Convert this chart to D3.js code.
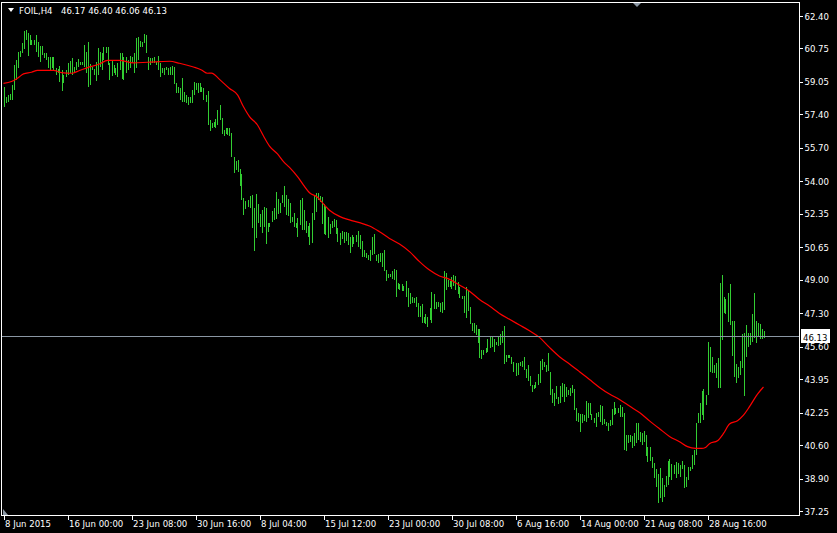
<!DOCTYPE html>
<html><head><meta charset="utf-8">
<script src="https://cdn.jsdelivr.net/npm/d3@7/dist/d3.min.js"></script>
<style>html,body{margin:0;padding:0;background:#000;overflow:hidden}</style>
</head><body><svg id="c" width="837" height="533"></svg>
<script>
const symbol = "FOIL,H4";
const lastOHLC = ["46.17", "46.40", "46.06", "46.13"];
const bidPrice = 46.13;

const highs = [
58.81,58.30,58.39,58.44,58.90,59.91,60.17,60.59,60.64,61.05,
61.66,61.69,61.52,61.44,61.18,61.18,61.44,61.10,60.88,60.88,
60.51,60.51,60.34,60.34,60.30,60.30,59.74,59.69,59.86,59.66,
59.40,59.66,60.00,60.13,60.25,59.83,60.08,60.20,60.08,60.08,
60.93,60.59,61.10,59.96,59.83,59.69,60.08,60.76,60.59,60.51,
60.81,60.81,60.81,60.00,60.17,59.91,59.74,60.00,60.51,60.51,
60.34,60.34,60.17,60.37,60.34,60.51,61.27,61.35,61.15,61.10,
61.49,61.44,60.34,60.25,60.25,60.30,60.08,60.37,60.00,59.74,
59.74,59.83,59.74,59.83,59.86,59.83,58.98,58.81,58.73,59.24,
58.56,58.39,58.30,58.30,58.64,59.07,58.98,59.02,58.98,58.81,
58.73,58.39,58.61,
57.11,56.98,57.03,57.15,57.62,57.88,57.20,56.61,56.69,56.69,
56.69,56.44,55.25,55.05,55.08,54.61,54.37,53.13,53.02,53.05,
53.25,53.31,52.63,53.36,52.85,52.34,52.54,52.68,52.63,51.86,
51.90,52.51,52.63,53.47,53.08,52.91,53.31,53.76,53.31,53.08,
52.88,52.17,52.41,51.90,52.12,53.05,53.13,52.54,52.00,51.73,
51.90,52.41,53.31,53.42,53.42,53.25,53.18,52.85,52.68,52.20,
51.83,52.00,52.07,52.03,51.61,51.36,
51.49,51.44,51.44,51.36,51.19,51.27,51.15,51.27,51.49,51.27,
50.98,50.51,50.34,50.26,50.51,51.19,51.32,50.26,50.31,50.38,
50.34,50.51,49.49,49.29,49.29,49.46,49.53,49.49,48.82,48.78,
48.78,48.68,48.95,48.56,48.31,48.11,48.05,48.14,47.83,47.66,
47.77,47.12,47.26,47.12,47.55,48.39,48.28,47.88,47.88,47.83,
47.88,49.46,49.32,48.99,48.95,49.12,49.24,49.19,48.90,48.61,
48.17,48.17,48.61,48.48,47.63,46.82,46.82,46.70,46.48,46.48,
45.43,45.43,45.51,45.97,46.14,46.10,45.97,45.85,46.07,46.24,
46.41,46.65,45.17,45.17,45.17,45.09,44.83,44.75,44.78,44.83,
44.88,45.05,44.44,44.66,44.11,43.65,43.65,43.82,44.21,44.88,
44.95,44.83,44.66,45.26,44.33,43.43,43.26,43.60,43.06,43.60,
43.77,43.70,43.53,43.39,43.48,43.65,43.43,42.46,42.24,42.17,
42.17,42.12,42.85,42.72,42.75,42.17,41.95,42.21,42.29,42.63,
42.58,41.90,41.79,41.70,41.87,42.41,42.80,42.46,42.46,42.63,
42.51,42.21,41.11,41.11,41.11,41.06,41.19,41.70,41.74,41.28,
41.19,41.33,41.11,40.52,40.48,40.01,39.70,39.36,39.13,39.42,
38.91,38.57,39.03,39.80,39.87,39.64,39.59,39.75,39.67,39.59,
39.80,39.59,38.99,39.50,39.50,40.09,40.35,41.70,42.24,42.75,
43.36,43.43,
43.14,45.85,45.56,45.09,44.66,44.78,45.00,48.85,49.24,48.14,
48.00,48.34,48.78,46.92,46.92,44.72,44.55,44.88,46.24,46.27,
46.70,46.31,46.31,47.26,48.34,46.92,46.78,46.75,46.48,46.40
];

const lows = [
57.76,57.97,58.05,58.13,58.13,58.64,59.15,59.74,60.34,60.51,
60.71,61.18,60.37,60.93,60.93,60.93,60.59,60.34,60.08,60.42,
60.25,60.17,59.74,59.66,59.74,59.66,59.40,59.49,59.07,58.61,
58.98,59.32,59.40,59.49,59.40,59.49,59.66,59.83,59.91,59.91,
59.83,59.49,58.78,58.90,59.66,59.40,59.12,59.40,59.83,59.66,
60.17,60.51,59.91,59.15,59.35,59.49,59.40,59.29,59.66,59.19,
59.15,59.49,59.66,59.74,60.00,59.49,59.74,60.17,60.84,60.84,
61.01,60.51,59.66,59.91,60.00,60.00,59.91,59.66,59.32,59.49,
59.40,59.66,59.40,59.40,59.40,58.95,58.47,58.47,58.13,58.05,
58.05,57.97,57.88,57.97,58.00,58.39,58.64,58.47,58.56,58.56,
58.13,58.05,56.85,
56.57,56.69,56.78,56.69,56.86,57.11,56.40,56.30,56.40,56.35,
56.30,55.25,54.44,54.57,54.49,53.76,53.05,52.29,52.58,52.71,
52.63,51.61,50.48,51.10,51.90,51.70,51.36,51.70,50.81,51.44,
51.70,51.95,52.03,52.07,52.34,52.41,52.88,52.71,52.29,52.24,
51.86,51.95,51.70,51.61,51.19,51.78,51.53,51.53,51.36,51.15,
50.76,50.88,52.03,52.46,53.05,52.97,51.83,51.32,51.27,51.10,
51.32,51.61,51.70,51.32,50.93,50.76,
51.05,50.85,50.98,50.76,50.37,50.68,50.82,50.93,50.68,50.54,
50.17,50.14,50.09,50.00,49.97,50.26,50.31,49.97,49.87,49.92,
49.63,49.46,48.95,49.07,49.12,49.02,48.99,48.10,48.51,48.48,
48.44,48.44,48.14,47.63,47.77,47.83,47.80,47.59,47.12,47.12,
46.82,46.82,46.75,46.61,46.95,46.82,47.50,47.50,47.59,47.38,
47.29,47.46,48.48,48.65,48.61,48.51,48.68,48.48,48.27,48.05,
48.00,47.29,47.04,47.43,46.75,46.41,46.28,46.19,45.77,45.01,
44.95,45.17,45.29,45.34,45.51,45.56,45.34,45.68,45.63,45.68,
45.77,44.72,44.83,45.00,45.00,44.72,44.33,44.11,44.16,44.61,
44.58,44.41,43.99,43.87,43.60,43.31,43.43,43.48,43.65,43.73,
44.41,44.55,44.33,44.38,43.14,42.75,42.58,42.92,42.68,42.72,
43.02,42.80,43.06,43.14,43.09,43.26,42.38,41.84,41.79,41.28,
41.73,41.84,41.79,41.95,42.12,41.87,41.70,41.53,42.01,41.79,
41.62,41.67,41.57,41.33,41.57,41.62,42.12,42.17,42.24,42.04,
42.01,40.35,40.31,40.72,40.77,40.43,40.55,40.69,40.86,40.77,
40.60,40.77,40.04,39.75,39.80,39.41,38.91,38.45,37.67,37.89,
37.72,37.94,38.45,38.57,38.96,38.82,39.13,38.91,39.13,38.96,
39.36,38.40,38.45,38.82,39.30,39.36,39.59,40.09,41.74,41.70,
42.13,41.87,
42.63,43.14,44.33,44.28,44.24,43.99,43.48,43.48,45.93,47.32,
47.26,46.87,46.70,45.12,44.07,43.77,43.99,44.16,44.50,43.09,
45.05,45.56,45.68,45.85,46.02,45.80,46.07,45.97,45.97,46.06
];

const maBars = [0,4,7,10,14,17,25,29,34,38,42,48,52,58,65,72,83,88,95,99,102,104,108,113,117,120,123,127,130,133,137,140,143,147,150,153,157,160,163,168,173,178,183,188,193,198,203,208,213,218,223,228,233,238,243,248,253,258,263,268,273,278,283,288,293,298,303,308,313,318,323,328,333,338,342,346,349,351,353,357,360,363,367,370,373,377,380];
const maValues = [58.98,59.07,59.24,59.46,59.54,59.64,59.64,59.52,59.49,59.63,59.78,59.96,60.15,60.15,60.02,60.05,60.10,60.00,59.81,59.66,59.49,59.50,59.18,58.72,58.39,57.79,57.29,56.86,56.30,55.79,55.39,55.00,54.71,54.24,53.81,53.42,53.19,52.85,52.53,52.22,52.04,51.90,51.73,51.44,51.10,50.81,50.43,49.92,49.49,49.19,49.02,48.73,48.42,48.00,47.66,47.29,46.99,46.70,46.41,46.07,45.56,45.09,44.72,44.33,43.93,43.53,43.19,42.92,42.58,42.25,41.83,41.43,41.04,40.77,40.52,40.43,40.43,40.48,40.67,40.82,41.19,41.67,41.84,42.12,42.55,43.19,43.55];

const priceTicks = [62.40,60.75,59.05,57.40,55.70,54.00,52.35,50.65,49.00,47.30,45.60,43.95,42.25,40.60,38.90,37.25];
const timeTickBars = [0,32,64,96,128,160,192,224,256,288,320,352];
const timeTickLabels = ["8 Jun 2015","16 Jun 00:00","23 Jun 08:00","30 Jun 16:00","8 Jul 04:00","15 Jul 12:00","23 Jul 00:00","30 Jul 08:00","6 Aug 16:00","14 Aug 00:00","21 Aug 08:00","28 Aug 16:00"];

const FONT = "'DejaVu Sans Condensed','DejaVu Sans',sans-serif";
const svg = d3.select("#c");
svg.append("rect").attr("width",837).attr("height",533).attr("fill","#000");

const x = d3.scaleLinear().domain([0, highs.length - 1]).range([3.5, 763.5]);
const y = d3.scaleLinear().domain([37.25, 62.40]).range([511, 16]);

// frame
svg.append("path").attr("d","M1.5,2.5H799.5V515.5H1.5Z").attr("fill","none").attr("stroke","#fff").attr("stroke-width",1).attr("shape-rendering","crispEdges");

// bars
svg.append("g").selectAll("line").data(highs).join("line")
  .attr("x1",(d,i)=>Math.round(x(i))+0.5).attr("x2",(d,i)=>Math.round(x(i))+0.5)
  .attr("y1",d=>y(d)).attr("y2",(d,i)=>y(lows[i]))
  .attr("stroke","#32cd32").attr("stroke-width",1).attr("shape-rendering","crispEdges");

// moving average
const ma = maBars.map((b,i)=>({b, v: maValues[i]}));
svg.append("path").datum(ma)
  .attr("d", d3.line().x(d=>x(d.b)).y(d=>y(d.v)).curve(d3.curveMonotoneX))
  .attr("fill","none").attr("stroke","#ff0000").attr("stroke-width",1.2);

// bid line
const by = Math.round(y(bidPrice)) + 0.5;
svg.append("line").attr("x1",2).attr("x2",799).attr("y1",by).attr("y2",by)
  .attr("stroke","#8a96a3").attr("stroke-width",1).attr("shape-rendering","crispEdges");

// right axis
const ya = svg.append("g").attr("transform","translate(799.5,0)")
  .call(d3.axisRight(y).tickValues(priceTicks).tickFormat(d3.format(".2f")).tickSize(3).tickPadding(2));
ya.select(".domain").remove();
ya.selectAll("line").attr("stroke","#fff").attr("shape-rendering","crispEdges");
ya.selectAll("text").attr("fill","#fff").attr("font-family",FONT).attr("font-size","9.5px");

// bid label
svg.append("rect").attr("x",801).attr("y",by-7.5).attr("width",29).attr("height",14).attr("fill","#fff");
svg.append("text").attr("x",803).attr("y",by+4).text(bidPrice.toFixed(2))
  .attr("fill","#000").attr("font-family",FONT).attr("font-size","9.5px");

// bottom axis
const xa = svg.append("g").attr("transform","translate(0,515.5)")
  .call(d3.axisBottom(x).tickValues(timeTickBars).tickFormat((d,i)=>timeTickLabels[i]).tickSize(4).tickPadding(1));
xa.select(".domain").remove();
xa.selectAll("line").attr("stroke","#fff").attr("shape-rendering","crispEdges");
xa.selectAll("text").attr("fill","#fff").attr("font-family",FONT).attr("font-size","9.5px")
  .attr("text-anchor","start").attr("dx","1px");

// title
svg.append("path").attr("d","M8,8H14L11,12Z").attr("fill","#fff");
svg.append("text").attr("x",19).attr("y",14).text(symbol).attr("fill","#fff").attr("font-family",FONT).attr("font-size","9.5px");
svg.append("text").attr("x",61).attr("y",14).text(lastOHLC.join(" ")).attr("fill","#fff").attr("font-family",FONT).attr("font-size","9.5px");

// shift markers
svg.append("path").attr("d","M633,3H641L637,7Z").attr("fill","#8a96a3");
svg.append("path").attr("d","M3,509L3,515H8Z").attr("fill","#8a96a3");
</script></body></html>
